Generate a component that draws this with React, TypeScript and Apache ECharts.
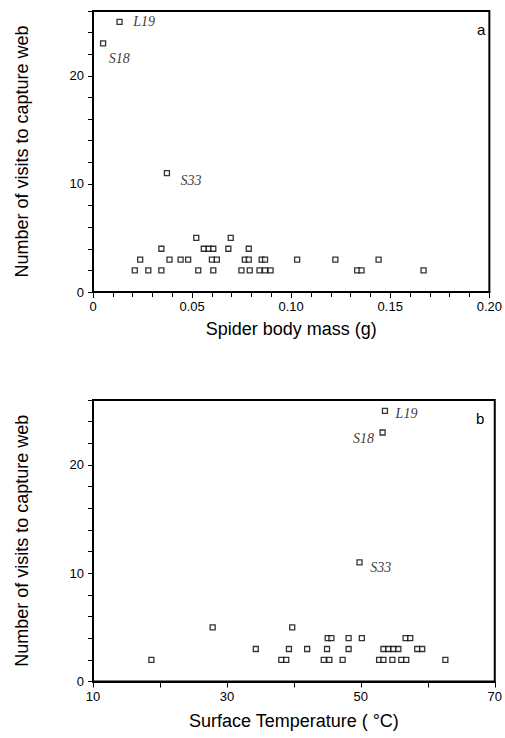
import React, { useEffect, useRef } from "react";
import * as echarts from "echarts";

// Panel a: spider body mass (g) vs number of visits
const massValues = [
  0.0051, 0.0134, 0.0373,
  0.0521, 0.0695,
  0.0345, 0.0559, 0.0584, 0.0607, 0.0683, 0.0786,
  0.0238, 0.0386, 0.0442, 0.048, 0.06, 0.0625, 0.0766, 0.0786, 0.0851, 0.0868, 0.103, 0.1223, 0.1441,
  0.0211, 0.0279, 0.0345, 0.0531, 0.0607, 0.0749, 0.0791, 0.084, 0.0868, 0.0896, 0.1333, 0.1355, 0.1668,
];
const visitsByMass = [
  23, 25, 11,
  5, 5,
  4, 4, 4, 4, 4, 4,
  3, 3, 3, 3, 3, 3, 3, 3, 3, 3, 3, 3, 3,
  2, 2, 2, 2, 2, 2, 2, 2, 2, 2, 2, 2, 2,
];

// Panel b: surface temperature (°C) vs number of visits
const tempValues = [
  53.25, 53.6, 49.8,
  27.87, 39.75,
  45.05, 45.6, 48.17, 50.15, 56.68, 57.38,
  34.31, 39.26, 41.98, 44.95, 48.17, 53.37, 54.11, 54.86, 55.6, 58.42, 59.16,
  18.72, 38.12, 38.86, 44.46, 45.3, 47.28, 52.73, 53.37, 54.71, 56.04, 56.78, 62.62,
];
const visitsByTemp = [
  23, 25, 11,
  5, 5,
  4, 4, 4, 4, 4, 4,
  3, 3, 3, 3, 3, 3, 3, 3, 3, 3, 3,
  2, 2, 2, 2, 2, 2, 2, 2, 2, 2, 2, 2,
];

const pointNames = ["S18", "L19", "S33"];
const massTicks = ["0", "0.05", "0.10", "0.15", "0.20"];
const tempTickLabels = [10, 30, 50, 70];
const visitTickLabels = [0, 10, 20];

const SANS = "Liberation Sans, Arial, sans-serif";
const SERIF = "Liberation Serif, Times New Roman, serif";

export default function App() {
  const ref = useRef<HTMLDivElement>(null);

  useEffect(() => {
    if (!ref.current) return;
    const chart = echarts.init(ref.current, undefined, { renderer: "svg" });

    const labelOffsetsA: any = {
      S18: { position: "right", offset: [2.5, 15] },
      L19: { position: "right", offset: [10.5, 0] },
      S33: { position: "right", offset: [10.5, 7] },
    };
    const labelOffsetsB: any = {
      S18: { position: "left", offset: [-5.5, 6] },
      L19: { position: "right", offset: [7.5, 3] },
      S33: { position: "right", offset: [7.5, 5] },
    };

    const buildData = (xs: number[], ys: number[], offs: any) =>
      xs.map((x, i) => {
        const item: any = { value: [x, ys[i]] };
        if (i < pointNames.length) {
          const name = pointNames[i];
          item.label = {
            show: true,
            formatter: name,
            position: offs[name].position,
            distance: 0,
            offset: offs[name].offset,
            fontFamily: SERIF,
            fontStyle: "italic",
            fontSize: 14,
            color: "#000",
          };
        }
        return item;
      });

    const axisLine = { show: true, onZero: false, lineStyle: { color: "#000", width: 2 } };
    const axisTick = { show: true, length: 5, lineStyle: { color: "#000", width: 1 } };
    const axisLabelBase = { color: "#000", fontFamily: SANS, fontSize: 13 };
    const nameTextStyle = { color: "#000", fontFamily: SANS, fontSize: 18 };

    const yAxisBase = (gridIndex: number) => ({
      gridIndex,
      type: "value",
      min: 0,
      max: 26,
      interval: 2,
      name: "Number of visits to capture web",
      nameLocation: "middle",
      nameGap: 62,
      nameTextStyle,
      axisLine,
      axisTick,
      splitLine: { show: false },
      axisLabel: {
        ...axisLabelBase,
        margin: 9,
        formatter: (v: number) => (visitTickLabels.includes(v) ? String(v) : ""),
      },
    });

    const symbolStyle = { color: "#fff", borderColor: "#000", borderWidth: 1.3 };

    const option: any = {
      animation: false,
      grid: [
        { left: 93, top: 11, width: 404, height: 281, show: true, borderColor: "#000", borderWidth: 2, backgroundColor: "transparent" },
        { left: 93, top: 400, width: 404, height: 281.5, show: true, borderColor: "#000", borderWidth: 2, backgroundColor: "transparent" },
      ],
      xAxis: [
        {
          gridIndex: 0,
          type: "value",
          min: 0,
          max: 0.2,
          interval: 0.05,
          name: "Spider body mass (g)",
          nameLocation: "middle",
          nameGap: 28,
          nameTextStyle,
          axisLine,
          axisTick: { ...axisTick, length: 6 },
          minorTick: { show: true, splitNumber: 5, length: 5, lineStyle: { color: "#000", width: 1 } },
          splitLine: { show: false },
          minorSplitLine: { show: false },
          axisLabel: {
            ...axisLabelBase,
            margin: 8,
            formatter: (v: number) => massTicks[Math.round(v / 0.05)] ?? "",
          },
        },
        {
          gridIndex: 1,
          type: "value",
          min: 10,
          max: 70,
          interval: 10,
          name: "Surface Temperature ( °C)",
          nameLocation: "middle",
          nameGap: 30,
          nameTextStyle,
          axisLine,
          axisTick: { ...axisTick, length: 6 },
          splitLine: { show: false },
          axisLabel: {
            ...axisLabelBase,
            margin: 8,
            formatter: (v: number) => (tempTickLabels.includes(v) ? String(v) : ""),
          },
        },
      ],
      yAxis: [yAxisBase(0), yAxisBase(1)],
      series: [
        {
          type: "scatter",
          xAxisIndex: 0,
          yAxisIndex: 0,
          symbol: "rect",
          symbolSize: 5,
          itemStyle: symbolStyle,
          data: buildData(massValues, visitsByMass, labelOffsetsA),
        },
        {
          type: "scatter",
          xAxisIndex: 1,
          yAxisIndex: 1,
          symbol: "rect",
          symbolSize: 5,
          itemStyle: symbolStyle,
          data: buildData(tempValues, visitsByTemp, labelOffsetsB),
        },
      ],
      graphic: [
        { type: "text", left: 477, top: 22, style: { text: "a", font: `15px ${SANS}`, fill: "#000" } },
        { type: "text", left: 476, top: 411, style: { text: "b", font: `15px ${SANS}`, fill: "#000" } },
      ],
    };

    chart.setOption(option);
    return () => chart.dispose();
  }, []);

  return (
    <div
      ref={ref}
      style={{ position: "absolute", left: 0, top: 0, width: 505, height: 738, background: "#fff" }}
    />
  );
}
